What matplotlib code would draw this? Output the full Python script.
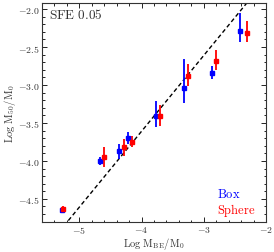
import matplotlib
matplotlib.use("Agg")
import matplotlib.pyplot as plt
import numpy as np
from matplotlib.ticker import MultipleLocator, FuncFormatter

plt.rcParams['mathtext.fontset'] = 'cm'
plt.rcParams['font.family'] = ['DejaVu Serif']

# Box series
box_x = [-5.27, -4.673, -4.366, -4.221, -3.763, -3.318, -2.871, -2.424]
box_y = [-4.645, -4.004, -3.872, -3.701, -3.412, -3.043, -2.842, -2.289]
box_err_lo = [0.03, 0.055, 0.10, 0.08, 0.145, 0.193, 0.079, 0.149]
box_err_hi = [0.03, 0.055, 0.10, 0.08, 0.197, 0.386, 0.088, 0.233]

# Sphere series
sph_x = [-5.26, -4.602, -4.285, -4.156, -3.705, -3.253, -2.806, -2.311]
sph_y = [-4.63, -3.951, -3.82, -3.746, -3.412, -2.878, -2.68, -2.312]
sph_err_lo = [0.04, 0.13, 0.11, 0.077, 0.124, 0.139, 0.12, 0.118]
sph_err_hi = [0.04, 0.13, 0.11, 0.077, 0.149, 0.154, 0.14, 0.15]

line_offset = 0.39
xlim = (-5.6, -2.0)
ylim = (-4.80, -1.92)

fig = plt.figure(figsize=(2.74, 2.53), dpi=100)
ax = fig.add_axes([0.153, 0.12, 0.818, 0.864])

lx = np.array(xlim)
ax.plot(lx, lx + line_offset, ls=(0, (3, 2)), color='black', lw=1.0, zorder=1)

ax.errorbar(box_x, box_y, yerr=[box_err_lo, box_err_hi], fmt='s', color='blue',
            ms=3.0, elinewidth=1.3, capsize=0, zorder=3)
ax.errorbar(sph_x, sph_y, yerr=[sph_err_lo, sph_err_hi], fmt='s', color='red',
            ms=3.0, elinewidth=1.3, capsize=0, zorder=3)

ax.set_xlim(*xlim)
ax.set_ylim(*ylim)
ax.xaxis.set_major_locator(MultipleLocator(1))
ax.xaxis.set_minor_locator(MultipleLocator(0.2))
ax.yaxis.set_major_locator(MultipleLocator(0.5))
ax.yaxis.set_minor_locator(MultipleLocator(0.1))
ax.xaxis.set_major_formatter(FuncFormatter(lambda v, p: r"$%d$" % round(v)))
ax.yaxis.set_major_formatter(FuncFormatter(lambda v, p: r"$%.1f$" % v))
ax.tick_params(which='both', direction='in', top=True, right=True, labelsize=7,
               width=0.6, pad=2, labelcolor='#333333')
ax.tick_params(which='major', length=3.5)
ax.tick_params(which='minor', length=1.8)
for s in ax.spines.values():
    s.set_linewidth(0.8)
    s.set_color('#333333')

ax.set_xlabel(r"$\mathrm{Log\ M_{BE}/M_0}$", fontsize=7.5, labelpad=0, color='#333333')
ax.set_ylabel(r"$\mathrm{Log\ M_{50}/M_0}$", fontsize=7.5, labelpad=0, color='#333333')

ax.text(0.033, 0.95, r"$\mathrm{SFE\ 0.05}$", transform=ax.transAxes, fontsize=9.5,
        ha='left', va='center', color='#333333')
ax.text(0.78, 0.127, r"$\mathrm{Box}$", transform=ax.transAxes, fontsize=9,
        ha='left', va='center', color='blue')
ax.text(0.78, 0.055, r"$\mathrm{Sphere}$", transform=ax.transAxes, fontsize=9,
        ha='left', va='center', color='red')

fig.savefig("out.png", dpi=100)
